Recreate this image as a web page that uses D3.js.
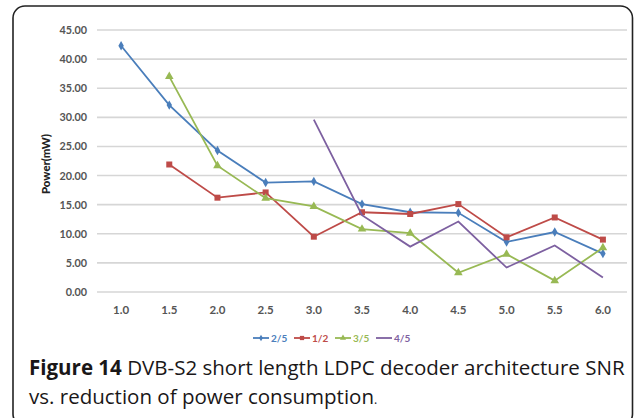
<!DOCTYPE html>
<html><head><meta charset="utf-8">
<script src="https://cdn.jsdelivr.net/npm/d3@7"></script>
<style>body{margin:0;background:#fff}svg{display:block}</style>
</head><body>
<script>
const categories = ["1.0","1.5","2.0","2.5","3.0","3.5","4.0","4.5","5.0","5.5","6.0"];
const yTicks = [0,5,10,15,20,25,30,35,40,45];
const s25 = [42.3,32.1,24.3,18.8,19.0,15.1,13.7,13.6,8.6,10.3,6.6];
const s12 = [null,21.9,16.2,17.1,9.5,13.7,13.4,15.1,9.4,12.8,9.0];
const s35 = [null,37.0,21.7,16.1,14.7,10.8,10.1,3.3,6.5,1.95,7.6];
const s45 = [null,null,null,null,29.6,13.2,7.8,12.1,4.2,8.0,2.5];
const seriesNames = ["2/5","1/2","3/5","4/5"];
const seriesColors = ["#4a7ebb","#be4b48","#98b954","#7d60a0"];
const seriesMarkers = ["diamond","square","triangle","none"];
const captionBold = "Figure 14";
const captionRest1 = " DVB-S2 short length LDPC decoder architecture SNR";
const captionLine2 = "vs. reduction of power consumption";

const W=637,H=418;
const svg=d3.select("body").append("svg").attr("width",W).attr("height",H);
svg.append("rect").attr("x",13).attr("y",6).attr("width",619.5).attr("height",420).attr("rx",12)
  .attr("fill","#fff").attr("stroke","#222").attr("stroke-width",1.6);

const x=d3.scaleBand().domain(categories).range([97,627]);
const y=d3.scaleLinear().domain([0,45]).range([292,30]);

// gridlines
svg.append("g").selectAll("line").data(yTicks).join("line")
  .attr("x1",97).attr("x2",627).attr("y1",d=>y(d)).attr("y2",d=>y(d))
  .attr("stroke","#d6d6d6").attr("stroke-width",1.6);

const yAxis=svg.append("g").attr("transform","translate(97,0)")
  .call(d3.axisLeft(y).tickValues(yTicks).tickFormat(d3.format(".2f")).tickSize(0).tickPadding(10));
yAxis.select(".domain").remove();
yAxis.selectAll("text").attr("font-family","Lato, sans-serif").attr("font-size",10.8).attr("font-weight","bold").attr("fill","#555");

const xAxis=svg.append("g").attr("transform","translate(0,300)")
  .call(d3.axisBottom(x).tickSize(0).tickPadding(6));
xAxis.select(".domain").remove();
xAxis.selectAll("text").attr("font-family","Lato, sans-serif").attr("font-size",11.5).attr("font-weight","bold").attr("fill","#555");

svg.append("text").attr("transform","translate(50,164) rotate(-90)").attr("text-anchor","middle")
  .attr("font-family","Lato, sans-serif").attr("font-weight","900").attr("font-size",11.5).attr("fill","#222")
  .attr("textLength",60).attr("lengthAdjust","spacingAndGlyphs").text("Power(mW)");

const allSeries=[s25,s12,s35,s45];
const line=d3.line().defined(d=>d.v!=null).x(d=>x(d.c)+x.bandwidth()/2).y(d=>y(d.v));
function marker(g,type,color,size){
  if(type==="diamond") g.append("path").attr("d",d3.symbol(d3.symbolDiamond,size*3.2)()).attr("fill",color);
  else if(type==="square") g.append("path").attr("d",d3.symbol(d3.symbolSquare,size*4.5)()).attr("fill",color);
  else if(type==="triangle") g.append("path").attr("d",d3.symbol(d3.symbolTriangle,size*4)()).attr("fill",color);
}
allSeries.forEach((s,i)=>{
  const data=s.map((v,j)=>({c:categories[j],v}));
  svg.append("path").datum(data).attr("d",line).attr("fill","none").attr("stroke",seriesColors[i]).attr("stroke-width",1.8);
  data.filter(d=>d.v!=null).forEach(d=>{
    const g=svg.append("g").attr("transform",`translate(${x(d.c)+x.bandwidth()/2},${y(d.v)})`);
    marker(g,seriesMarkers[i],seriesColors[i],8);
  });
});

// legend
const legX=[253,294,335,376];
seriesNames.forEach((n,i)=>{
  const g=svg.append("g").attr("transform",`translate(${legX[i]},338)`);
  g.append("line").attr("x1",0).attr("x2",16).attr("stroke",seriesColors[i]).attr("stroke-width",1.8);
  const m=g.append("g").attr("transform","translate(8,0)");
  marker(m,seriesMarkers[i],seriesColors[i],4);
  g.append("text").attr("x",18).attr("y",3.5).attr("font-family","Lato, sans-serif").attr("font-size",10)
    .attr("font-weight","bold").attr("fill",seriesColors[i]).text(n);
});

// caption
const cap=svg.append("text").attr("x",29).attr("y",375).attr("font-family","'Open Sans', sans-serif").attr("font-size",19).attr("fill","#1a1718");
cap.append("tspan").attr("font-weight","bold").text(captionBold);
cap.append("tspan").attr("font-weight","500").text(captionRest1);
const w=cap.node().getComputedTextLength();
const fs=19*596/w;
cap.attr("font-size",fs);
const c2=svg.append("text").attr("x",29).attr("y",404).attr("font-family","'Open Sans', sans-serif").attr("font-weight","500").attr("font-size",fs).attr("fill","#1a1718");
c2.append("tspan").text(captionLine2);
c2.append("tspan").attr("font-size",fs*0.6).text(".");
</script>
</body></html>
